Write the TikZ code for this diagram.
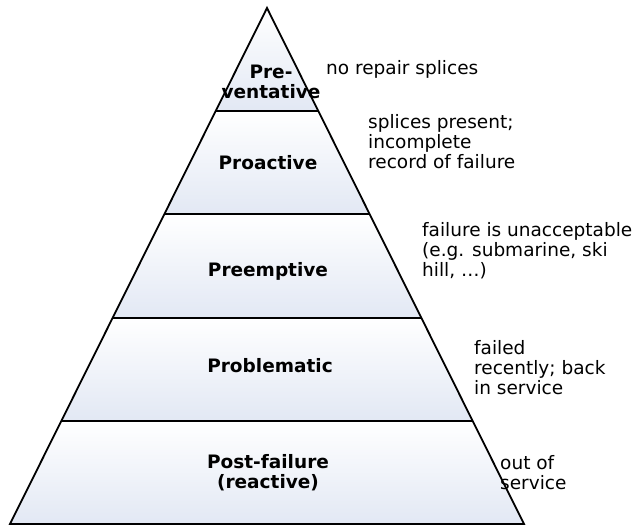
\documentclass[tikz,border=0pt]{standalone}
\usepackage{fontspec}
\setmainfont{DejaVu Sans}
\usetikzlibrary{calc}
\definecolor{bandblue}{HTML}{E2E8F4}

\tikzset{
  level/.style={font=\fontsize{18.5}{20}\selectfont\bfseries, align=center, inner sep=0pt},
  note/.style={font=\fontsize{18.5}{20}\selectfont, align=left, anchor=west, inner sep=0pt}
}

\begin{document}
\begin{tikzpicture}[x=1pt, y=-1pt]
        \useasboundingbox (0,0) rectangle (633,529);
        \coordinate (apex) at (267,8);
        \coordinate (bl) at (10,524);
        \coordinate (br) at (524,524);
        % shaded bands
        \begin{scope}
          \clip (apex) -- (br) -- (bl) -- cycle;
          \foreach \k in {0,...,4}
            \shade[top color=white, bottom color=bandblue]
              (0,{8+103.2*\k}) rectangle (633,{8+103.2*(\k+1)});
        \end{scope}
        \foreach \t in {0.2,0.4,0.6,0.8}
          \draw[line width=2pt] ($(apex)!\t!(bl)$) -- ($(apex)!\t!(br)$);
        \draw[line width=1.8pt, line join=miter] (apex) -- (br) -- (bl) -- cycle;
        % levels
        \node[level] (prev) at (271,82) {Pre-\\ventative};
        \node[level] (proa) at (268,163) {Proactive};
        \node[level] (pree) at (268,271) {Preemptive};
        \node[level] (prob) at (270,366) {Problematic};
        \node[level] (post) at (268,473) {Post-failure\\(reactive)};
        % notes
        \node[note] (nprev) at (326,69) {no repair splices};
        \node[note] (nproa) at (368,141.5) {splices present;\\incomplete\\record of failure};
        \node[note] (npree) at (422,250.5) {failure is unacceptable\\(e.g. submarine, ski\\hill, …)};
        \node[note] (nprob) at (474,367.5) {failed\\recently; back\\in service};
        \node[note] (npost) at (500,473) {out of\\service};
      \end{tikzpicture}
\end{document}
